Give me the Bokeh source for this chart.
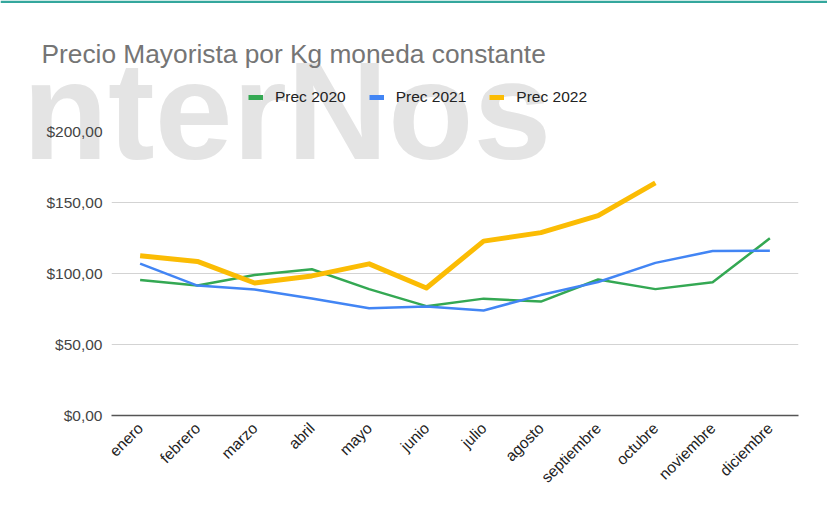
import math
from bokeh.plotting import figure
from bokeh.models import (FactorRange, Range1d, FixedTicker, Label, Legend, LegendItem,
                          ColumnDataSource, BoxAnnotation)
from bokeh.embed import file_html
from bokeh.resources import INLINE

# ---- data ----
months = ["enero", "febrero", "marzo", "abril", "mayo", "junio", "julio",
          "agosto", "septiembre", "octubre", "noviembre", "diciembre"]
prec_2020 = [95.5, 91.5, 99.0, 103.0, 89.0, 77.0, 82.3, 80.2, 95.8, 89.0, 93.8, 124.8]
prec_2021 = [107.0, 91.5, 88.7, 82.4, 75.5, 76.8, 74.0, 84.8, 94.0, 107.5, 115.8, 116.0]
prec_2022 = [112.5, 108.5, 93.3, 98.3, 106.8, 89.8, 122.8, 128.8, 140.8, 163.8]
y_ticks = [0, 50, 100, 150, 200]
y_tick_labels = ["$0,00", "$50,00", "$100,00", "$150,00", "$200,00"]
series_names = ["Prec 2020", "Prec 2021", "Prec 2022"]
title_text = "Precio Mayorista por Kg moneda constante"
watermark_text = "nterNos"

FONT = "Liberation Sans"
colors = ["#34a853", "#4285f4", "#fbbc04"]
widths = [2.5, 2.5, 5]
W, H = 827, 522

# ---- background figure: watermark, title, legend (screen units, y measured up from bottom) ----
bg = figure(x_range=Range1d(0, W), y_range=Range1d(0, H), frame_width=W, frame_height=H,
            min_border=0, x_axis_type=None, y_axis_type=None,
            output_backend="svg", toolbar_location=None)
bg.grid.visible = False
bg.outline_line_color = None
bg.background_fill_color = "white"
bg.border_fill_color = "white"

bg.add_layout(Label(x=22, y=H - 110, x_units="screen", y_units="screen", text=watermark_text,
                    text_font=FONT, text_font_style="bold", text_font_size="140px",
                    text_color="#e4e4e4", text_baseline="alphabetic", level="image"))
bg.add_layout(BoxAnnotation(left=0, right=W, top=H, bottom=H - 2.5,
                            left_units="screen", right_units="screen",
                            top_units="screen", bottom_units="screen",
                            fill_color="#34a79d", fill_alpha=1, line_color=None))
bg.add_layout(Label(x=41, y=H - 53, x_units="screen", y_units="screen", text=title_text,
                    text_font=FONT, text_font_size="26.3px", text_color="#757575",
                    text_baseline="alphabetic"))

items = []
for name, c in zip(series_names, colors):
    r = bg.line(x=[float("nan")], y=[float("nan")], line_color=c, line_width=5)
    items.append(LegendItem(label=name, renderers=[r]))
legend = Legend(items=items, orientation="horizontal", location=(248, H - 106),
                glyph_width=15, glyph_height=18, label_standoff=12, spacing=23,
                padding=0, margin=0, border_line_color=None, background_fill_alpha=0,
                label_text_font=FONT, label_text_font_size="15.5px",
                label_text_color="#222222")
bg.add_layout(legend, "center")

# ---- main chart, transparent, laid over the background ----
p = figure(x_range=FactorRange(*months), y_range=Range1d(0, 200),
           frame_width=687, frame_height=284,
           min_border_left=111, min_border_right=29,
           min_border_top=131, min_border_bottom=107,
           output_backend="svg", toolbar_location=None)
p.styles = {"position": "absolute", "top": "0px", "left": "0px"}
p.x_range.range_padding = 0
p.outline_line_color = None
p.background_fill_alpha = 0
p.border_fill_alpha = 0

series = [prec_2020, prec_2021, prec_2022]
for vals, c, w in zip(series, colors, widths):
    src = ColumnDataSource(dict(x=months[:len(vals)], y=vals))
    p.line("x", "y", source=src, line_color=c, line_width=w, line_join="round")

p.yaxis.ticker = FixedTicker(ticks=y_ticks)
p.yaxis.major_label_overrides = dict(zip(y_ticks, y_tick_labels))
p.yaxis.axis_line_color = None
p.yaxis.major_tick_line_color = None
p.yaxis.minor_tick_line_color = None
p.yaxis.major_tick_out = 0
p.yaxis.major_label_text_font = FONT
p.yaxis.major_label_text_font_size = "15.5px"
p.yaxis.major_label_text_color = "#444444"
p.yaxis.major_label_standoff = 9

p.xaxis.axis_line_color = "#555555"
p.xaxis.axis_line_width = 1.5
p.xaxis.major_tick_line_color = None
p.xaxis.minor_tick_line_color = None
p.xaxis.major_tick_out = 0
p.xaxis.major_label_orientation = math.pi / 4
p.xaxis.major_label_text_font = FONT
p.xaxis.major_label_text_font_size = "15.5px"
p.xaxis.major_label_text_color = "#222222"
p.xaxis.major_label_standoff = 10

p.xgrid.grid_line_color = None
p.ygrid.grid_line_color = "#d3d3d3"
p.ygrid.grid_line_width = 1

open("out.html", "w").write(file_html([bg, p], INLINE))
